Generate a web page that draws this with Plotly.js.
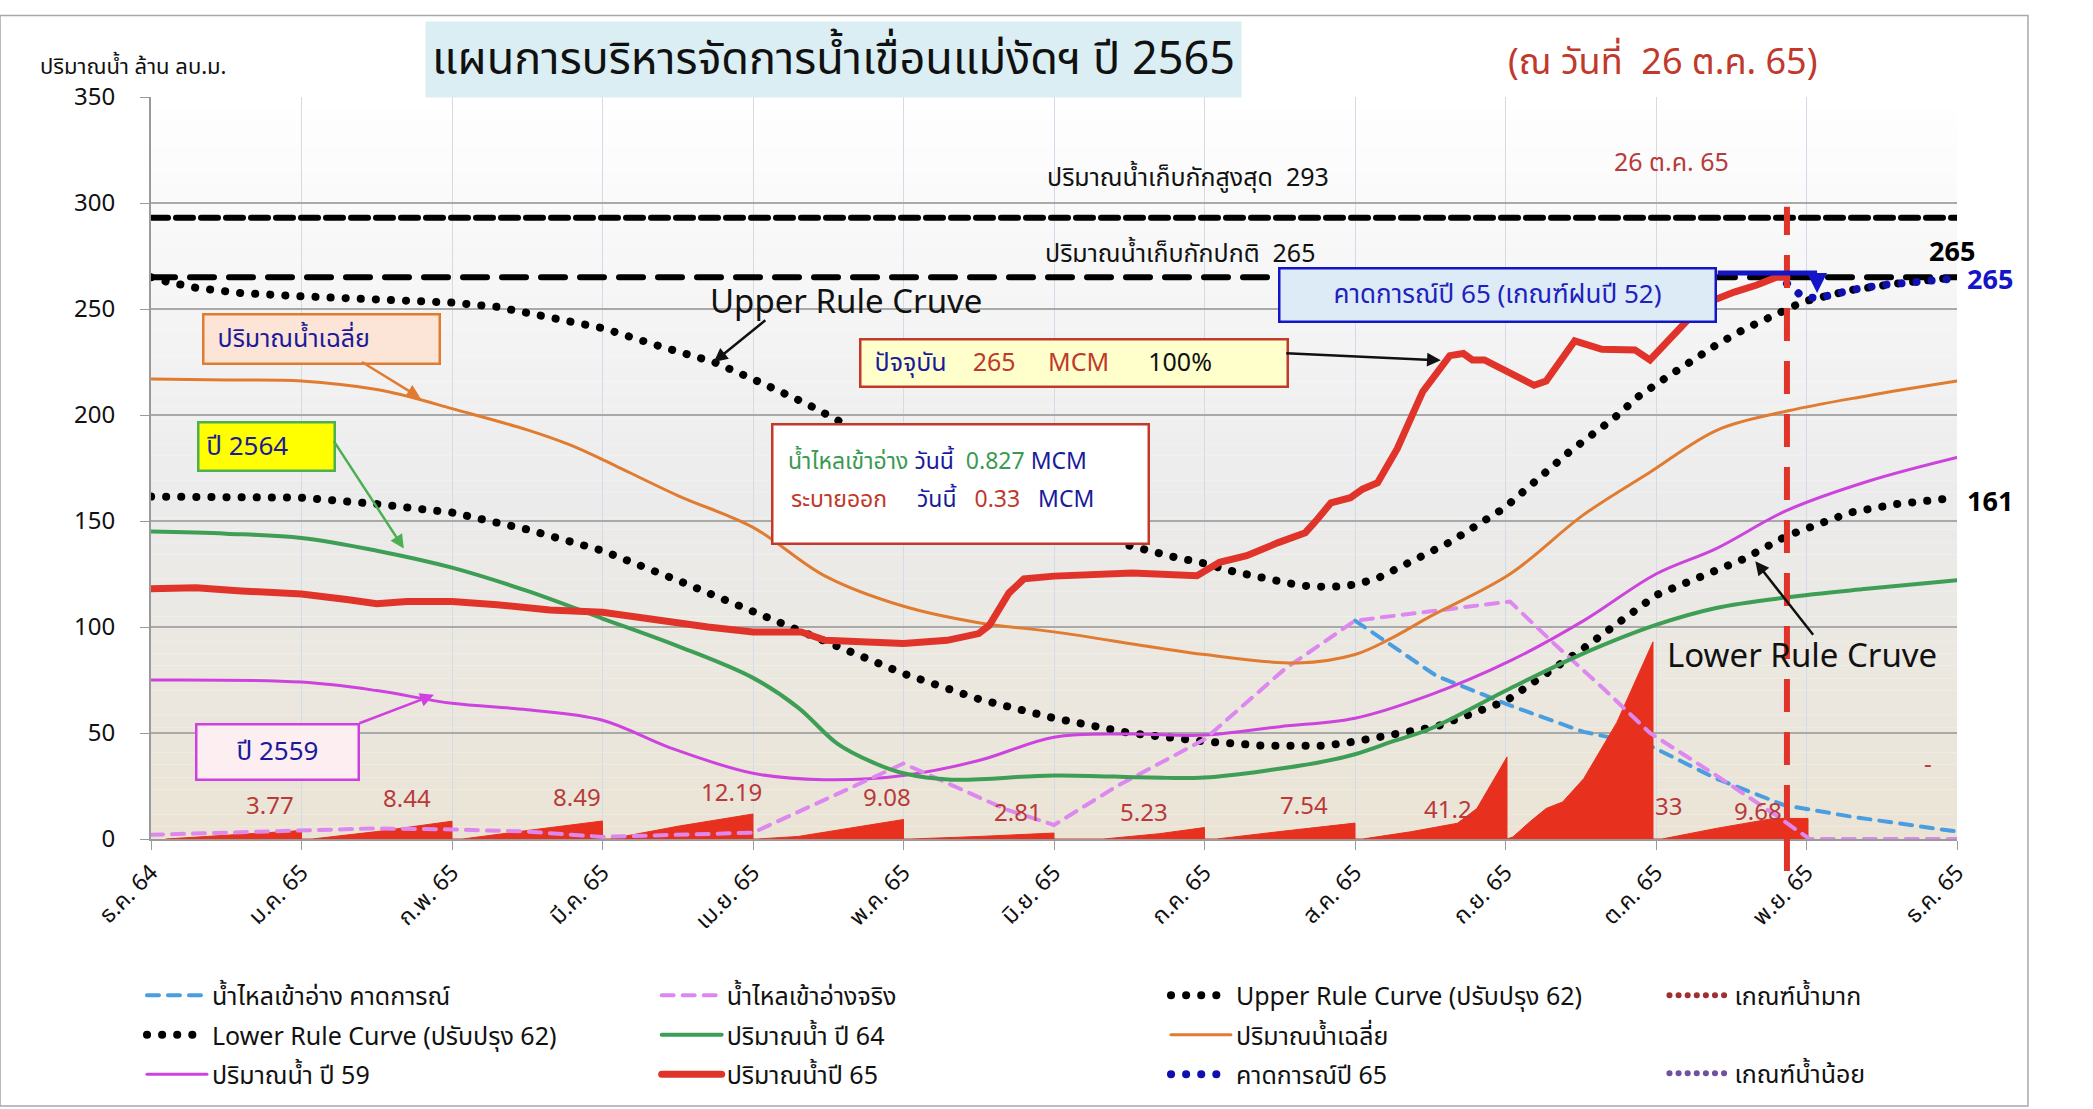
<!DOCTYPE html>
<html>
<head>
<meta charset="utf-8">
<script src="https://cdn.plot.ly/plotly-3.0.1.min.js"></script>
<style>
  html, body { margin: 0; padding: 0; background: #fff; }
  #chart { width: 2093px; height: 1109px; }
  .round-cap .js-line { stroke-linecap: round; }
</style>
</head>
<body>
<div id="chart"></div>
<script>
// แกน x เป็นลำดับเดือน: 0 = 1 ธ.ค. 64, 12 = 1 ธ.ค. 65
const monthLabels = ['ธ.ค. 64', 'ม.ค. 65', 'ก.พ. 65', 'มี.ค. 65', 'เม.ย. 65', 'พ.ค. 65', 'มิ.ย. 65',
  'ก.ค. 65', 'ส.ค. 65', 'ก.ย. 65', 'ต.ค. 65', 'พ.ย. 65', 'ธ.ค. 65'];
const monthTicks = [0, 1, 2, 3, 4, 5, 6, 7, 8, 9, 10, 11, 12];

const maxStorage = 293;
const normalStorage = 265;
const todayX = 10.87; // 26 ต.ค. 65

// Upper Rule Curve (ปรับปรุง 62)
const upperX = [0, 0.1, 0.3, 0.6, 1, 1.5, 2, 2.3, 2.6, 3, 3.4, 3.74, 4.06, 4.35, 4.63, 5, 5.5, 6, 6.49, 6.8, 7, 7.2, 7.44, 7.64, 7.84, 8, 8.15, 8.63, 8.99, 9.43, 9.72, 9.88, 10.06, 10.23, 10.41, 10.59, 10.78, 10.98, 11.3, 11.6, 12];
const upperY = [265, 263, 260, 257.5, 256, 254.5, 253, 251, 247, 241, 232, 225, 215, 205.5, 195, 182.5, 166, 151, 138.6, 133, 130, 126, 122, 119.5, 118.8, 120, 123, 140, 156, 183, 198.4, 208.6, 217.3, 225.6, 233.5, 240.6, 247, 253.5, 259, 262, 265];

// Lower Rule Curve (ปรับปรุง 62)
const lowerX = [0, 0.5, 1, 1.5, 2, 2.5, 3, 3.5, 4, 4.22, 4.52, 5, 5.5, 6, 6.5, 7, 7.4, 7.8, 8, 8.3, 8.54, 9, 9.52, 10, 10.58, 10.87, 11.29, 11.6, 12];
const lowerY = [161.5, 161, 161, 158, 154, 146, 136, 122, 107, 101, 91.4, 78, 66, 57, 50, 46, 44, 44, 46, 50, 53, 65, 90, 115, 132, 143, 154, 158, 161];

// ปริมาณน้ำเฉลี่ย
const avgX = [0, 0.5, 1, 1.5, 1.75, 2, 2.5, 2.78, 3, 3.5, 4, 4.48, 4.99, 5.5, 6, 6.65, 7, 7.62, 8, 8.25, 8.5, 9.03, 9.52, 9.96, 10.41, 10.88, 11.4, 12];
const avgY = [217, 216.5, 216, 212, 208, 203, 193, 186, 179, 162, 147, 124, 110, 102, 97.7, 90.6, 87, 83, 87, 95, 105, 125, 153, 173, 193, 202, 209, 216];

// ปริมาณน้ำ ปี 64
const y64X = [0, 0.5, 1, 1.5, 2, 2.5, 3, 3.5, 4, 4.3, 4.56, 4.8, 5, 5.32, 6, 6.64, 7, 7.75, 8, 8.25, 8.5, 9.03, 9.5, 10, 10.4, 10.87, 11.4, 12];
const y64Y = [145, 144, 142, 136, 128, 117, 104, 91, 76, 62, 45, 36, 31, 28, 30, 29, 29, 36, 40, 46, 52, 71, 87, 101, 109, 114, 118, 122];

// ปริมาณน้ำ ปี 59
const y59X = [0, 1, 1.5, 2, 2.5, 3, 3.45, 4, 4.47, 5, 5.5, 6, 6.5, 7, 7.5, 8, 8.5, 9.03, 9.52, 10, 10.4, 10.87, 11.42, 12];
const y59Y = [75, 74, 70, 64, 61, 56, 43, 31, 28, 30, 37, 48, 49.5, 49, 53, 57, 68, 84, 103, 125, 137, 155, 169, 180];

// ปริมาณน้ำปี 65
const y65X = [0, 0.3, 0.6, 1, 1.3, 1.5, 1.7, 2, 2.3, 2.65, 3, 3.2, 3.45, 3.7, 4, 4.32, 4.48, 5, 5.29, 5.5, 5.57, 5.7, 5.8, 6, 6.52, 6.95, 7.1, 7.28, 7.49, 7.67, 7.75, 7.84, 7.97, 8.05, 8.15, 8.28, 8.45, 8.63, 8.72, 8.78, 8.86, 9.02, 9.19, 9.27, 9.46, 9.64, 9.86, 9.96, 10.08, 10.21, 10.36, 10.52, 10.67, 10.8, 10.87];
const y65Y = [118, 118.5, 117, 115.6, 113, 111, 112, 112, 110.5, 108, 107, 105, 102, 100, 97.6, 97.7, 93.7, 92.2, 93.7, 96.9, 100.8, 116, 122.7, 124, 125.5, 124.2, 130.5, 133.6, 139.8, 144.5, 150.8, 158.6, 161, 165, 168, 184, 211, 228, 229, 226, 226, 220, 214, 216, 235, 231, 230.7, 226, 235.4, 244.8, 253.5, 258, 261.3, 265, 265];

// คาดการณ์ปี 65
const fcstX = [10.87, 10.97, 11.07, 11.3, 11.5, 11.75, 12];
const fcstY = [262, 256, 255, 259, 261.3, 263, 264.5];

// น้ำไหลเข้าอ่างจริง
const inflowActX = [0, 1, 1.5, 2, 2.5, 3, 4, 5, 5.68, 6, 6.42, 7, 7.53, 8, 8.46, 9.03, 9.34, 9.65, 9.96, 10.4, 10.8, 11.02, 12];
const inflowActY = [2, 4.2, 5, 4.5, 3.5, 1, 3, 35.6, 14, 6.6, 25, 47, 80, 103, 107, 112, 91, 71, 50, 30, 11, 0, 0];

// น้ำไหลเข้าอ่าง คาดการณ์
const inflowFcstX = [8, 8.54, 9.03, 9.52, 9.96, 10.4, 10.85, 11.3, 12];
const inflowFcstY = [103, 77, 63, 50.5, 44, 28.5, 16, 10.5, 3.5];

// น้ำไหลเข้าสะสมรายเดือน (พื้นที่สีแดง)
const monthAreaX = [0.1, 0.5, 1.0, 1.0, 1.07, 1.5, 2.0, 2.0, 2.07, 2.5, 3.0, 3.0, 3.05, 3.5, 4.0, 4.0, 4.03, 4.3, 5.0, 5.0, 5.05, 5.5, 6.0, 6.0, 6.33, 6.7, 7.0, 7.0, 7.08, 7.5, 8.0, 8.0, 8.05, 8.37, 8.68, 8.81, 9.01, 9.01, 9.05, 9.16, 9.27, 9.38, 9.52, 9.74, 9.98, 9.98, 10.04, 10.4, 10.78, 11.01, 11.01];
const monthAreaY = [0, 1.8, 4.0, 0, 0, 3.5, 8.4, 0, 0, 4.0, 8.5, 0, 0, 6.0, 11.8, 0, 0, 1.2, 9.2, 0, 0, 1.2, 2.8, 0, 0, 2.5, 5.4, 0, 0, 3.5, 7.5, 0, 0, 3.4, 7.4, 14.4, 38.7, 0, 1, 8, 14.4, 17.5, 28.5, 55, 93, 0, 0, 5, 9.7, 9.7, 0];

// ป้ายตัวเลขน้ำไหลเข้ารายเดือน
const monthTotals = ['3.77', '8.44', '8.49', '12.19', '9.08', '2.81', '5.23', '7.54', '41.2', '33', '9.68', '-'];
const monthTotalPos = [[0.79, 15], [1.70, 18.2], [2.83, 18.8], [3.86, 21.3], [4.89, 18.8], [5.76, 11.9],
  [6.60, 11.9], [7.66, 15], [8.62, 13], [10.08, 14.4], [10.68, 12.5], [11.81, 35]];

const FONT = 'Tahoma, "Noto Sans Thai", "Noto Sans", "DejaVu Sans", sans-serif';
const RED_TXT = '#b83a3a';
const NAVY = '#1a1a9a';

const dotDash = '0.1px,15px';
const traces = [
  { x: inflowFcstX, y: inflowFcstY, name: 'น้ำไหลเข้าอ่าง คาดการณ์', mode: 'lines',
    line: { color: '#4a9ee0', width: 4, dash: '12px,9px' }, legend: 'legend', legendgroup: 'a1' },
  { x: monthAreaX, y: monthAreaY, name: 'area', mode: 'lines', fill: 'tozeroy', fillcolor: '#e8301e',
    line: { color: '#e8301e', width: 1 }, showlegend: false },
  { x: [0, 12], y: [maxStorage, maxStorage], mode: 'lines', showlegend: false,
    line: { color: '#000', width: 6, dash: '17px,8px' } },
  { x: [0, 12], y: [normalStorage, normalStorage], mode: 'lines', showlegend: false,
    line: { color: '#000', width: 6, dash: '24px,15px' } },
  { x: lowerX, y: lowerY, name: 'Lower Rule Curve (ปรับปรุง 62)', mode: 'lines', line: { color: '#000', width: 8, dash: dotDash },
    legend: 'legend', legendgroup: 'a2' },
  { x: y59X, y: y59Y, name: 'ปริมาณน้ำ ปี 59', mode: 'lines', line: { color: '#cc44dd', width: 3, shape: 'spline' },
    legend: 'legend', legendgroup: 'a3' },
  { x: inflowActX, y: inflowActY, name: 'น้ำไหลเข้าอ่างจริง', mode: 'lines',
    line: { color: '#dd88ee', width: 4, dash: '12px,9px' }, legend: 'legend2', legendgroup: 'b1' },
  { x: y64X, y: y64Y, name: 'ปริมาณน้ำ ปี 64', mode: 'lines', line: { color: '#3f9e55', width: 4, shape: 'spline' },
    legend: 'legend2', legendgroup: 'b2' },
  { x: upperX, y: upperY, name: 'Upper Rule Curve (ปรับปรุง 62)', mode: 'lines', line: { color: '#000', width: 8, dash: dotDash },
    legend: 'legend3', legendgroup: 'c1' },
  { x: avgX, y: avgY, name: 'ปริมาณน้ำเฉลี่ย', mode: 'lines', line: { color: '#e07b30', width: 3, shape: 'spline' },
    legend: 'legend3', legendgroup: 'c2' },
  { x: fcstX, y: fcstY, name: 'คาดการณ์ปี 65', mode: 'lines', line: { color: '#1010b0', width: 8, dash: dotDash },
    legend: 'legend3', legendgroup: 'c3' },
  { x: y65X, y: y65Y, name: 'ปริมาณน้ำปี 65', mode: 'lines', line: { color: '#e0342a', width: 7 },
    legend: 'legend2', legendgroup: 'b3' },
  { x: [null], y: [null], name: 'เกณฑ์น้ำมาก', mode: 'lines', line: { color: '#a03030', width: 6, dash: '0.1px,9px' },
    legend: 'legend4' },
  { x: [null], y: [null], name: 'เกณฑ์น้ำน้อย', mode: 'lines', line: { color: '#7050a0', width: 6, dash: '0.1px,9px' },
    legend: 'legend5' }
];

// พื้นหลังไล่สี
const stops = [[0, [235, 228, 213]], [0.45, [235, 235, 235]], [0.78, [247, 247, 247]], [1, [255, 255, 255]]];
function bgColor(t) {
  for (let i = 1; i < stops.length; i++) {
    if (t <= stops[i][0]) {
      const a = stops[i - 1], b = stops[i];
      const f = (t - a[0]) / (b[0] - a[0]);
      const c = a[1].map((v, k) => Math.round(v + (b[1][k] - v) * f));
      return `rgb(${c.join(',')})`;
    }
  }
  return 'rgb(255,255,255)';
}
const shapes = [];
const nBands = 60;
for (let i = 0; i < nBands; i++) {
  shapes.push({ type: 'rect', xref: 'paper', yref: 'paper', x0: 0, x1: 1, y0: i / nBands, y1: (i + 1) / nBands,
    fillcolor: bgColor((i + 0.5) / nBands), line: { width: 0 }, layer: 'below' });
}
// กรอบภาพ
shapes.push({ type: 'rect', xref: 'paper', yref: 'paper', x0: -0.0836, x1: 1.0393, y0: -0.36, y1: 1.110,
  line: { color: '#a8a8a8', width: 1.5 }, layer: 'below' });
// เส้นวันที่ปัจจุบัน
shapes.push({ type: 'line', xref: 'x', yref: 'paper', x0: todayX, x1: todayX, y0: -0.043, y1: 0.852,
  line: { color: '#e0342a', width: 6, dash: '33px,20px' } });
// เส้นโยงกล่องคาดการณ์
shapes.push({ type: 'line', xref: 'x', yref: 'y', x0: 10.41, x1: 11.07, y0: 267, y1: 267,
  line: { color: '#1515c8', width: 5 } });

function box(x, y, text, w, h, bg, border, color, size, align) {
  return { x, y, xref: 'x', yref: 'y', text, showarrow: false, width: w, height: h, bgcolor: bg,
    xanchor: 'center', yanchor: 'middle', align: align || 'center',
    bordercolor: border, borderwidth: 2.5, borderpad: 0, font: { family: FONT, size, color } };
}
function arrow(x, y, ax, ay, color) {
  return { x, y, xref: 'x', yref: 'y', ax, ay, text: '', showarrow: true, arrowhead: 2, arrowsize: 1.1,
    arrowwidth: 2.5, arrowcolor: color };
}
function label(x, y, text, size, color, extra) {
  return Object.assign({ x, y, xref: 'x', yref: 'y', text, showarrow: false, xanchor: 'center', yanchor: 'middle',
    font: { family: FONT, size, color } }, extra || {});
}
function paperLabel(x, y, text, size, color, extra) {
  return Object.assign(label(x, y, text, size, color), { xref: 'paper', yref: 'paper' }, extra || {});
}
const sp = n => '\u00a0'.repeat(n);

const annotations = [
  Object.assign(paperLabel(0.378, 1.051, 'แผนการบริหารจัดการน้ำเขื่อนแม่งัดฯ ปี 2565', 45, '#111'),
    { width: 815, height: 75, bgcolor: '#daeef3', borderpad: 0 }),
  paperLabel(0.837, 1.046, '(ณ วันที่' + sp(2) + '26 ต.ค. 65)', 36, '#c0392b'),
  paperLabel(-0.01, 1.04, 'ปริมาณน้ำ ล้าน ลบ.ม.', 22, '#111'),
  label(6.89, 312, 'ปริมาณน้ำเก็บกักสูงสุด' + sp(2) + '293', 25, '#111'),
  label(6.84, 276, 'ปริมาณน้ำเก็บกักปกติ' + sp(2) + '265', 25, '#111'),
  label(10.1, 319, '26 ต.ค. 65', 25, RED_TXT),
  label(4.62, 253, 'Upper Rule Cruve', 33, '#111'),
  arrow(3.74, 225, 53, -43, '#111'),
  label(10.97, 86, 'Lower Rule Cruve', 33, '#111'),
  arrow(10.66, 131, 59, 75, '#111'),
  box(1.13, 236, sp(2) + 'ปริมาณน้ำเฉลี่ย', 234, 47, '#fce4d6', '#e07b30', NAVY, 25, 'left'),
  arrow(1.79, 208, -60, -37, '#e07b30'),
  box(0.77, 185, sp(1) + 'ปี 2564', 134, 46, '#ffff00', '#4caf50', NAVY, 26, 'left'),
  arrow(1.68, 137, -71, -109, '#4caf50'),
  box(0.84, 41, 'ปี 2559', 160, 53, '#fdeef2', '#d040e0', NAVY, 26),
  arrow(1.88, 68, -76, 29, '#d040e0'),
  box(6.13, 224.5, sp(2) + '<span style="color:' + NAVY + '">ปัจจุบัน</span>' + sp(4) + '<span style="color:#c0392b">265</span>' + sp(5) +
    '<span style="color:#c0392b">MCM</span>' + sp(6) + '100%', 425, 45, '#ffffcc', '#c0392b', '#111', 25, 'left'),
  arrow(8.57, 225.8, -156, -7, '#111'),
  box(5.38, 167.5, ' ', 374, 117, '#ffffff', '#c0392b', '#111', 20),
  label(4.22, 178, '<span style="color:#3a9a50">น้ำไหลเข้าอ่าง</span> <span style="color:' + NAVY + '">วันนี้</span>' + sp(2) +
    '<span style="color:#3a9a50">0.827</span> <span style="color:' + NAVY + '">MCM</span>', 23, '#111', { xanchor: 'left' }),
  label(4.24, 160, '<span style="color:#c0392b">ระบายออก</span>' + sp(5) + '<span style="color:' + NAVY + '">วันนี้</span>' + sp(3) +
    '<span style="color:#c0392b">0.33</span>' + sp(3) + '<span style="color:' + NAVY + '">MCM</span>', 23, '#111', { xanchor: 'left' }),
  box(8.95, 256.5, 'คาดการณ์ปี 65 (เกณฑ์ฝนปี 52)', 434, 51, '#dcebf5', '#1515c8', '#2020c0', 26),
  { x: 11.07, y: 257.5, xref: 'x', yref: 'y', ax: 11.07, ay: 267, axref: 'x', ayref: 'y', text: '', showarrow: true,
    arrowhead: 2, arrowsize: 1, arrowwidth: 4, arrowcolor: '#1515c8' },
  paperLabel(0.9975, 276.6 / 350, '<b>265</b>', 27, '#000'),
  paperLabel(1.0183, 263.4 / 350, '<b>265</b>', 27, '#1515c8'),
  paperLabel(1.0183, 158.7 / 350, '<b>161</b>', 27, '#000')
];
monthTotals.forEach((t, i) => {
  annotations.push(label(monthTotalPos[i][0], monthTotalPos[i][1], t, 24, RED_TXT));
});

const legendBase = { xref: 'paper', yref: 'paper', xanchor: 'left', yanchor: 'top', bgcolor: 'rgba(0,0,0,0)',
  font: { family: FONT, size: 25, color: '#111' }, tracegroupgap: 4, itemwidth: 60, traceorder: 'grouped' };

const layout = {
  width: 2093, height: 1109,
  margin: { l: 151, r: 136, t: 97, b: 267 },
  paper_bgcolor: '#ffffff',
  plot_bgcolor: 'rgba(0,0,0,0)',
  font: { family: FONT, color: '#111' },
  xaxis: {
    range: [0, 12], tickmode: 'array', tickvals: monthTicks, ticktext: monthLabels, tickangle: -45,
    tickfont: { family: FONT, size: 23, color: '#111' }, showgrid: true, gridcolor: '#d3dbe6', gridwidth: 1,
    showline: true, linecolor: '#9a9a9a', linewidth: 2, ticks: 'outside', ticklen: 9, tickcolor: '#9a9a9a',
    zeroline: false, fixedrange: true
  },
  yaxis: {
    range: [0, 350], dtick: 50, tickfont: { family: FONT, size: 24, color: '#111' }, showgrid: true,
    gridcolor: '#a9a9a9', gridwidth: 1.5, showline: true, linecolor: '#9a9a9a', linewidth: 2, ticks: 'outside',
    ticklen: 9, tickcolor: '#9a9a9a', zeroline: false, ticklabelstandoff: 20, fixedrange: true
  },
  shapes, annotations,
  legend: Object.assign({}, legendBase, { x: -0.005, y: -0.18 }),
  legend2: Object.assign({}, legendBase, { x: 0.28, y: -0.18 }),
  legend3: Object.assign({}, legendBase, { x: 0.562, y: -0.18 }),
  legend4: Object.assign({}, legendBase, { x: 0.838, y: -0.18 }),
  legend5: Object.assign({}, legendBase, { x: 0.838, y: -0.285 }),
  showlegend: true
};

Plotly.newPlot('chart', traces, layout, { displayModeBar: false, staticPlot: true }).then(() => {
  document.getElementById('chart').classList.add('round-cap');
});
</script>
</body>
</html>
